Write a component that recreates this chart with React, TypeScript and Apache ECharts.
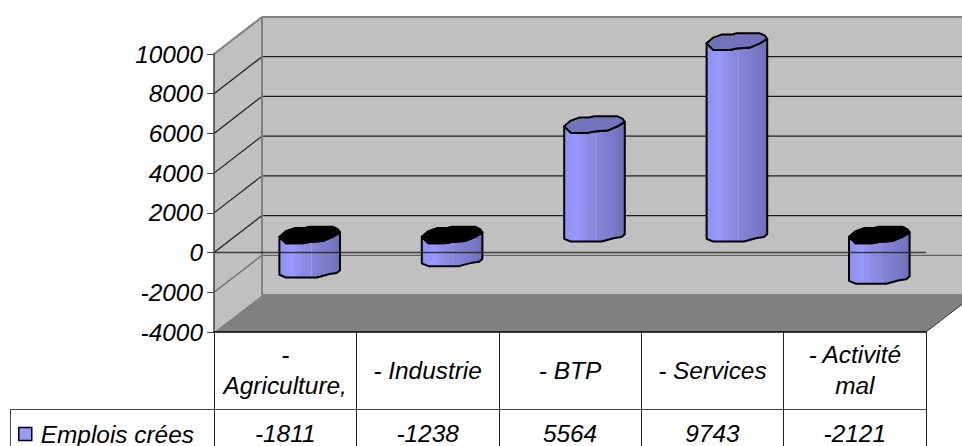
import React, { useEffect, useRef } from "react";
import * as echarts from "echarts";

const categories = ["-\nAgriculture,", "- Industrie", "- BTP", "- Services", "- Activité\nmal"];
const seriesName = "Emplois crées";
const values = [-1811, -1238, 5564, 9743, -2121];
const yMin = -4000;
const yMax = 10000;
const yStep = 2000;
const yTicks = [-4000, -2000, 0, 2000, 4000, 6000, 8000, 10000];

const DX = 48;
const DY = -37;
const FONT = "'Liberation Sans', Arial, sans-serif";
const FS = 24.4;

const topShape: number[][] = [
  [-30.3, 1.7], [-23.7, -4], [-15.3, -7], [-5.3, -7], [-0.3, -8.3], [23, -8.3], [28, -6], [30.3, -2.7],
  [23, 1.7], [13, 6], [-0.3, 7], [-7, 8.3], [-23.7, 8.3],
];
const frontTop: number[][] = [
  [30.3, -2.7], [23, 1.7], [13, 6], [-0.3, 7], [-7, 8.3], [-23.7, 8.3], [-30.3, 1.7],
];
const bottomShape: number[][] = [
  [-30.3, 3.7], [-23.7, 6.5], [7, 6.5], [20, 3], [27, 2], [30.3, -0.9],
];

const bodyFill = new echarts.graphic.LinearGradient(0, 0, 1, 0, [
  { offset: 0, color: "#9090F2" },
  { offset: 0.12, color: "#9595F8" },
  { offset: 0.24, color: "#9999FF" },
  { offset: 0.25, color: "#9393F3" },
  { offset: 0.36, color: "#9090EC" },
  { offset: 0.37, color: "#8B8BE4" },
  { offset: 0.52, color: "#8888DE" },
  { offset: 0.53, color: "#9A9AE0" },
  { offset: 0.54, color: "#8484D8" },
  { offset: 0.68, color: "#7F7FD0" },
  { offset: 0.78, color: "#7B7BCA" },
  { offset: 0.88, color: "#7676C2" },
  { offset: 1, color: "#6E6EB4" },
]);

export default function App() {
  const ref = useRef<HTMLDivElement>(null);

  useEffect(() => {
    document.body.style.margin = "0";
    const chart = echarts.init(ref.current!, undefined, { renderer: "svg" });

    const wallsRender = (params: any, api: any) => {
      const cs = params.coordSys;
      const l = cs.x;
      const r = cs.x + cs.width;
      const yOf = (v: number) => api.coord([0, v])[1];
      const top = yOf(yMax);
      const bot = yOf(yMin);
      const children: any[] = [
        { type: "polygon", shape: { points: [[l + DX, top + DY], [r + DX, top + DY], [r + DX, bot + DY], [l + DX, bot + DY]] }, style: { fill: "#C0C0C0" } },
        { type: "polygon", shape: { points: [[l, top], [l + DX, top + DY], [l + DX, bot + DY], [l, bot]] }, style: { fill: "#C0C0C0" } },
        { type: "polygon", shape: { points: [[l, bot], [l + DX, bot + DY], [r + DX, bot + DY], [r, bot]] }, style: { fill: "#808080" } },
      ];
      yTicks.forEach((t) => {
        const y = yOf(t);
        const edge = t === yMax || t === yMin;
        const col = edge ? "#808080" : t === -2000 ? "#666666" : "#1c1c1c";
        const w = edge ? 2 : 1.2;
        if (t !== yMin) {
          children.push({ type: "line", shape: { x1: l, y1: y, x2: l + DX, y2: y + DY }, style: { stroke: col, lineWidth: w } });
        }
        children.push({ type: "line", shape: { x1: l + DX, y1: y + DY, x2: r + DX, y2: y + DY }, style: { stroke: col, lineWidth: w } });
      });
      children.push({ type: "line", shape: { x1: l + DX, y1: top + DY, x2: l + DX, y2: bot + DY }, style: { stroke: "#808080", lineWidth: 2 } });
      children.push({ type: "line", shape: { x1: r, y1: bot, x2: r + DX, y2: bot + DY }, style: { stroke: "#333333", lineWidth: 1 } });
      return { type: "group", children };
    };

    const barRender = (_params: any, api: any) => {
      const i = api.value(0);
      const v = api.value(1);
      const p0 = api.coord([i, 0]);
      const pv = api.coord([i, v]);
      const cx = p0[0] + DX / 2 + 0.5;
      const offY = DY / 2 + 1;
      const yZero = p0[1] + offY;
      const yVal = pv[1] + offY;
      const capY = Math.min(yZero, yVal);
      const baseY = Math.max(yZero, yVal);
      const body = [
        ...frontTop.map(([x, y]) => [cx + x, capY + y]),
        ...bottomShape.map(([x, y]) => [cx + x, baseY + y]),
      ];
      const capColor = v < 0 ? "#000000" : "#7373BD";
      return {
        type: "group",
        children: [
          { type: "polygon", shape: { points: body }, style: { fill: bodyFill, stroke: "#000", lineWidth: 2, lineJoin: "round" } },
          { type: "polygon", shape: { points: topShape.map(([x, y]) => [cx + x, capY + y]) }, style: { fill: capColor, stroke: "#000", lineWidth: 2, lineJoin: "round" } },
        ],
      };
    };

    const zeroRender = (params: any, api: any) => {
      const cs = params.coordSys;
      const y = api.coord([0, 0])[1];
      return {
        type: "line",
        shape: { x1: cs.x, y1: y, x2: cs.x + cs.width, y2: y },
        style: { stroke: "rgba(40,40,40,0.85)", lineWidth: 1.5 },
      };
    };

    const labelStyle = { fontFamily: FONT, fontSize: FS, fontStyle: "italic" as const, color: "#000" };

    chart.setOption({
      animation: false,
      backgroundColor: "#fff",
      grid: { left: 214, right: 36, top: 54, bottom: 114, containLabel: false },
      legend: {
        data: [{ name: seriesName, icon: "rect", itemStyle: { color: "#9999FF", borderColor: "#000", borderWidth: 1.5 } }],
        left: 18,
        top: 422,
        padding: 0,
        itemWidth: 13,
        itemHeight: 13,
        itemGap: 0,
        selectedMode: false,
        textStyle: { ...labelStyle, padding: [0, 0, 4, 4] },
      },
      xAxis: [
        {
          type: "category",
          data: categories,
          position: "bottom",
          z: 5,
          axisLine: { onZero: false, lineStyle: { color: "#000", width: 1.5 } },
          axisTick: { show: true, length: 114, lineStyle: { color: "#222", width: 1 } },
          axisLabel: { ...labelStyle, margin: 38, verticalAlign: "middle", lineHeight: 31, interval: 0 },
          splitLine: { show: false },
        },
        {
          type: "category",
          data: values.map(String),
          position: "bottom",
          z: 5,
          axisLine: { show: false, onZero: false },
          axisTick: { show: false },
          axisLabel: { ...labelStyle, margin: 101, verticalAlign: "middle", interval: 0 },
          splitLine: { show: false },
        },
      ],
      yAxis: {
        type: "value",
        min: yMin,
        max: yMax,
        interval: yStep,
        z: 5,
        axisLine: { show: true, lineStyle: { color: "#404040", width: 1.5 } },
        axisTick: { show: true, length: 7, lineStyle: { color: "#404040", width: 1 } },
        axisLabel: { ...labelStyle, margin: 11, formatter: (v: number) => String(v) },
        splitLine: { show: false },
      },
      graphic: [
        { type: "line", silent: true, shape: { x1: 10, y1: 409.5, x2: 926, y2: 409.5 }, style: { stroke: "#444", lineWidth: 1 } },
        { type: "line", silent: true, shape: { x1: 10.5, y1: 409.5, x2: 10.5, y2: 446 }, style: { stroke: "#444", lineWidth: 1 } },
      ],
      series: [
        { type: "custom", name: "walls", silent: true, z: 1, data: [[0, 0]], renderItem: wallsRender },
        { type: "custom", name: seriesName, silent: true, z: 2, encode: { x: 0, y: 1 }, data: values.map((v, i) => [i, v]), renderItem: barRender, itemStyle: { color: "#9999FF" } },
        { type: "custom", name: "zero", silent: true, z: 3, data: [[0, 0]], renderItem: zeroRender },
      ],
    });

    return () => chart.dispose();
  }, []);

  return <div ref={ref} style={{ width: 962, height: 446 }} />;
}
